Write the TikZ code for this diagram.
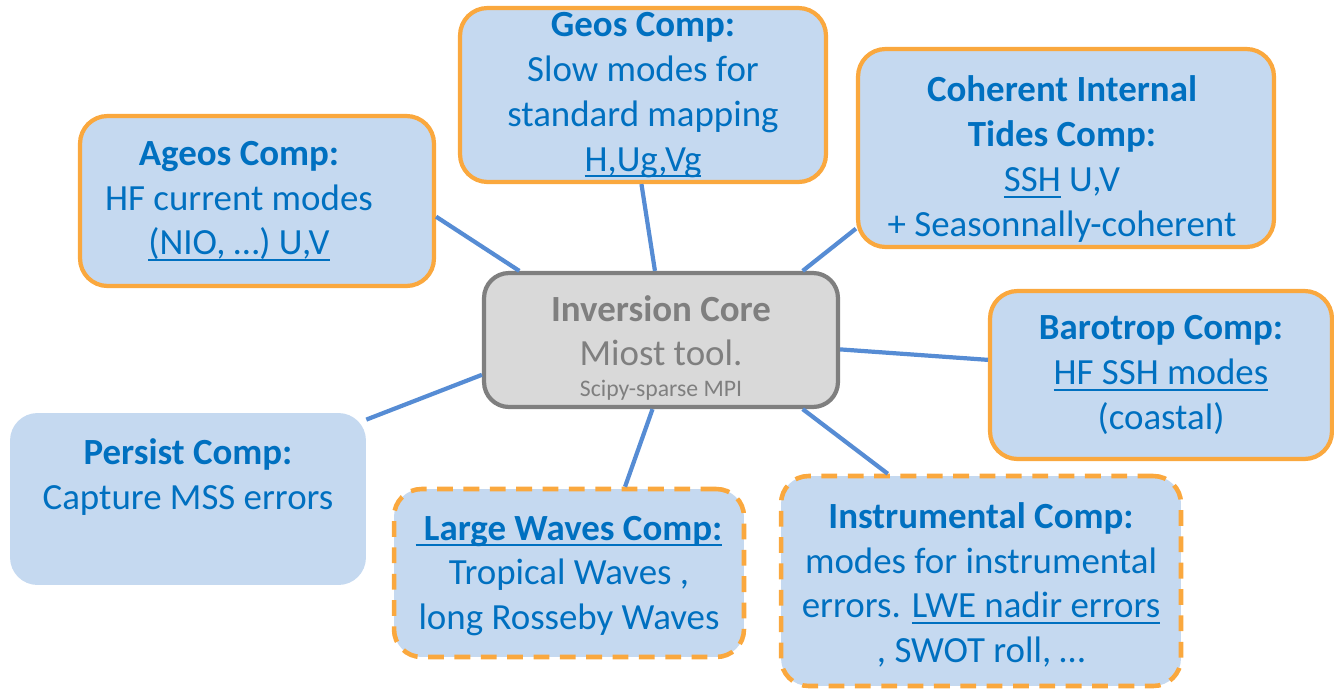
\documentclass[tikz,border=0pt]{standalone}
\usepackage{fontspec}
\setmainfont{Carlito}
\usetikzlibrary{positioning}
\definecolor{compfill}{RGB}{197,217,240}
\definecolor{comptext}{RGB}{0,112,192}
\definecolor{compedge}{RGB}{250,168,62}
\definecolor{corefill}{RGB}{217,217,217}
\definecolor{coregray}{RGB}{127,127,127}
\definecolor{linkblue}{RGB}{86,140,212}
\newsavebox\undlbox
\newcommand\undl[1]{\sbox\undlbox{#1}\rlap{\rule[-3.5pt]{\wd\undlbox}{1.1pt}}\usebox\undlbox}

\begin{document}
\begin{tikzpicture}[x=0.02cm,y=-0.02cm,
  comptxt/.style={text=comptext,align=center,font=\fontsize{21}{25.5}\selectfont,inner sep=0pt},
  comp/.style={comptxt,rounded corners=0.55cm,fill=compfill},
  solidcomp/.style={comp,draw=compedge,line width=2.4pt},
  dashcomp/.style={comp,draw=compedge,line width=2.6pt,dash pattern=on 9pt off 6pt},
  core/.style={rounded corners=0.5cm,fill=corefill,draw=coregray,line width=2.4pt,inner sep=0pt},
  coretxt/.style={text=coregray,align=center,font=\fontsize{21}{25}\selectfont,inner sep=0pt},
  link/.style={draw=linkblue,line width=2.4pt}]
\useasboundingbox (0,0) rectangle (1334,693);
% component boxes
\node[solidcomp,minimum width=7.32cm,minimum height=3.48cm] (geos) at (643,95)
  {\textbf{Geos Comp:}\\ Slow modes for\\ standard mapping\\ \undl{H,Ug,Vg}};
\node[solidcomp,minimum width=8.32cm,minimum height=3.96cm] (coherent) at (1066,148) {};
\node[comptxt] (coherenttext) at (1062,159)
  {\textbf{Coherent Internal}\\ \textbf{Tides Comp:}\\ \undl{SSH} U,V\\ + Seasonnally-coherent};
\node[solidcomp,minimum width=7.08cm,minimum height=3.40cm] (ageos) at (257,201) {};
\node[comptxt] (ageostext) at (239,201)
  {\textbf{Ageos Comp:}\\ HF current modes\\ \undl{(NIO, …) U,V}};
\node[solidcomp,minimum width=6.84cm,minimum height=3.36cm] (barotrop) at (1161,375)
  {\textbf{Barotrop Comp:}\\ \undl{HF SSH modes}\\ (coastal)};
\node[comp,minimum width=7.12cm,minimum height=3.44cm] (persist) at (188,499) {};
\node[comptxt] (persisttext) at (188,477) {\textbf{Persist Comp:}\\ Capture MSS errors};
\node[dashcomp,minimum width=7.0cm,minimum height=3.36cm] (largewaves) at (569,573) {};
\node[comptxt] (largewavestext) at (569,576)
  {\undl{\textbf{\ Large Waves Comp:}}\\ Tropical Waves ,\\ long Rosseby Waves};
\node[dashcomp,minimum width=8.0cm,minimum height=4.2cm] (instrumental) at (981,581) {};
\node[comptxt] (instrumentaltext) at (981,585)
  {\textbf{Instrumental Comp:}\\ modes for instrumental\\ errors. \undl{LWE nadir errors}\\ , SWOT roll, …};
% core
\node[core,minimum width=7.08cm,minimum height=2.68cm] (core) at (661,340) {};
\node[coretxt] (coretext) at (661,348)
  {\textbf{Inversion Core}\\ Miost tool.\\[-7pt] {\fontsize{13.5}{16}\selectfont Scipy-sparse MPI}};
% links
\draw[link] (ageos.-5) -- (core.154);
\draw[link] (geos.-91) -- (core.95);
\draw[link] (coherent.201) -- (core.26);
\draw[link] (barotrop.175) -- (core.-3);
\draw[link] (persist.24) -- (core.191);
\draw[link] (largewaves.57) -- (core.263);
\draw[link] (instrumental.131) -- (core.-26);
\end{tikzpicture}
\end{document}
